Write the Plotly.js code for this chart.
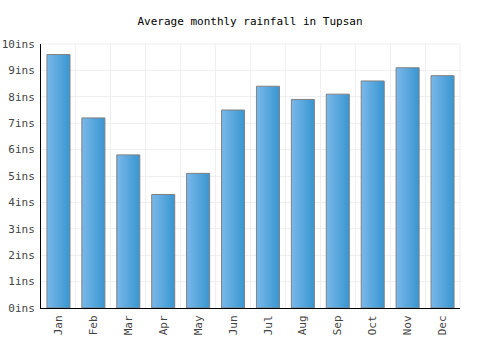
<!DOCTYPE html>
<html><head><meta charset="utf-8">
<script src="https://cdn.plot.ly/plotly-3.0.1.min.js"></script>
<style>body{margin:0;background:#fff}</style>
</head><body>
<div id="chart" style="width:500px;height:350px"></div>
<script>
const months = ["Jan","Feb","Mar","Apr","May","Jun","Jul","Aug","Sep","Oct","Nov","Dec"];
const rainfall = [9.6, 7.2, 5.8, 4.3, 5.1, 7.5, 8.4, 7.9, 8.1, 8.6, 9.1, 8.8];
const yTicks = [0,1,2,3,4,5,6,7,8,9,10];
const yTickLabels = yTicks.map(v => v + "ins");

const fontFam = "DejaVu Sans Mono, monospace";
const trace = {
  type: "bar", x: months, y: rainfall, width: 0.66,
  marker: {color: "#5aa8e0", line: {color: "#808080", width: 1}},
  hoverinfo: "none"
};
const layout = {
  width: 500, height: 350,
  margin: {l: 41, r: 40, t: 44, b: 42},
  paper_bgcolor: "#fff", plot_bgcolor: "#fff",
  title: {text: "Average monthly rainfall in Tupsan", font: {family: fontFam, size: 11, color: "#000"}, x: 0.5, xanchor: "center", y: 0.94, yanchor: "middle"},
  font: {family: fontFam, size: 11, color: "#444"},
  showlegend: false,
  xaxis: {type: "category", tickson: "boundaries", ticklen: 0, showgrid: true, gridcolor: "#efefef",
    showline: true, linecolor: "#000", linewidth: 1, mirror: false, tickangle: -90, range: [-0.5, 11.5],
    ticklabelstandoff: 2,
    tickfont: {family: fontFam, size: 11, color: "#444"}},
  yaxis: {range: [0, 10], tickvals: yTicks, ticktext: yTickLabels, showgrid: true, gridcolor: "#efefef",
    showline: true, linecolor: "#000", linewidth: 1, zeroline: false, ticks: "", ticklen: 0,
    ticklabelstandoff: 3,
    tickfont: {family: fontFam, size: 11, color: "#444"}},
  shapes: [
    {type: "line", xref: "paper", yref: "paper", x0: 0, x1: 1, y0: 1, y1: 1, line: {color: "#efefef", width: 1}},
    {type: "line", xref: "paper", yref: "paper", x0: 1, x1: 1, y0: 0, y1: 1, line: {color: "#efefef", width: 1}}
  ]
};
function applyGradient(gd) {
  const svg = gd.querySelector("svg.main-svg");
  if (!svg) return;
  const ns = "http://www.w3.org/2000/svg";
  let defs = svg.querySelector("defs");
  if (!defs) { defs = document.createElementNS(ns, "defs"); svg.insertBefore(defs, svg.firstChild); }
  if (!svg.querySelector("#barGrad")) {
    const lg = document.createElementNS(ns, "linearGradient");
    lg.setAttribute("id", "barGrad");
    lg.setAttribute("x1", "0"); lg.setAttribute("x2", "1"); lg.setAttribute("y1", "0"); lg.setAttribute("y2", "0");
    [["0%", "#7ab8ea"], ["100%", "#3896d0"]].forEach(([o, c]) => {
      const s = document.createElementNS(ns, "stop");
      s.setAttribute("offset", o); s.setAttribute("stop-color", c);
      lg.appendChild(s);
    });
    defs.appendChild(lg);
  }
  gd.querySelectorAll(".barlayer .point path").forEach(p => { p.style.fill = "url(#barGrad)"; });
}
Plotly.newPlot("chart", [trace], layout, {staticPlot: true, displayModeBar: false}).then(applyGradient);
</script>
</body></html>
